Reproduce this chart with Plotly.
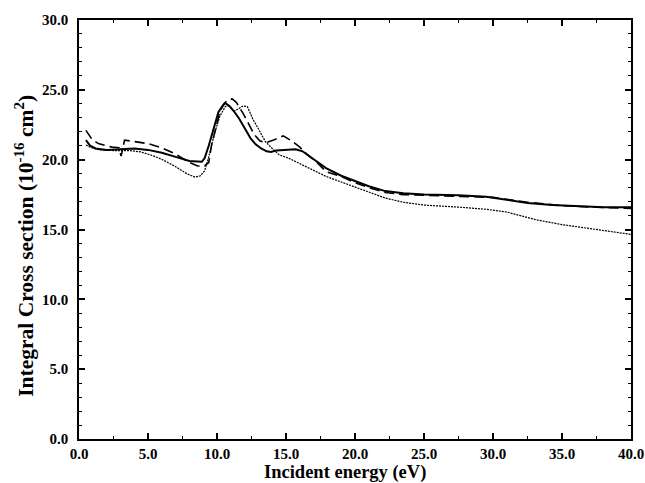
import plotly.graph_objects as go

# Solid curve
solid_E = [0.5, 0.8, 1.2, 2.0, 3.0, 4.0, 5.0, 6.0, 7.0, 8.0, 8.9, 9.1, 9.4, 9.75, 10.1, 10.4, 10.6,
           10.9, 11.2, 11.6, 12.0, 12.45, 12.8, 13.2, 13.6, 13.9, 14.3, 15.0, 15.7, 16.2, 16.7, 17.3,
           17.9, 19.0, 20.0, 21.0, 22.2, 23.5, 25.0, 27.5, 29.5, 31.0, 32.5, 34.3, 36.0, 38.0, 40.0]
solid_S = [21.4, 21.0, 20.8, 20.7, 20.75, 20.8, 20.7, 20.5, 20.2, 19.9, 19.85, 20.1, 21.0, 22.2, 23.4, 23.85, 24.05,
           23.85, 23.5, 22.95, 22.3, 21.5, 21.1, 20.8, 20.6, 20.55, 20.65, 20.7, 20.75, 20.6, 20.25, 19.8,
           19.4, 18.85, 18.5, 18.1, 17.75, 17.6, 17.5, 17.45, 17.35, 17.1, 16.9, 16.75, 16.7, 16.6, 16.6]

# Dashed curve
dash_E = [0.5, 0.95, 1.4, 2.4, 2.9, 3.05, 3.3, 4.0, 5.0, 6.0, 7.0, 8.0, 8.6, 9.1, 9.4, 9.6, 9.9, 10.2,
          10.5, 10.8, 11.1, 11.4, 11.9, 12.3, 12.7, 13.1, 13.5, 14.1, 14.8, 15.4, 16.0, 16.5, 17.2, 17.9,
          19.1, 20.0, 21.0, 22.2, 23.5, 25.0, 27.5, 30.0, 32.5, 35.0, 37.5, 40.0]
dash_S = [22.1, 21.45, 21.15, 20.9, 20.85, 20.25, 21.4, 21.3, 21.15, 20.85, 20.4, 19.8, 19.55, 19.55, 19.8, 21.0, 22.3, 23.4,
          24.0, 24.3, 24.35, 24.1, 23.3, 22.5, 21.8, 21.35, 21.2, 21.4, 21.7, 21.35, 20.9, 20.4, 19.85, 19.15,
          18.75, 18.35, 18.0, 17.65, 17.5, 17.45, 17.4, 17.3, 16.95, 16.7, 16.6, 16.5]

# Dotted curve
dot_E = [0.5, 0.9, 1.5, 2.5, 3.7, 4.5, 5.3, 6.05, 7.0, 7.8, 8.4, 8.8, 9.1, 9.4, 9.8, 10.2, 10.6, 10.9,
         11.2, 11.5, 11.9, 12.2, 12.6, 12.95, 13.5, 13.9, 14.5, 15.2, 16.2, 17.0, 17.9, 19.0, 20.0, 21.0,
         22.2, 23.5, 25.0, 27.5, 29.5, 31.0, 33.1, 35.0, 37.5, 39.3, 40.0]
dot_S = [21.05, 20.85, 20.7, 20.65, 20.65, 20.55, 20.3, 20.0, 19.5, 19.0, 18.75, 18.85, 19.2, 20.2, 21.8, 23.1, 23.8, 23.85,
         23.45, 23.6, 23.85, 23.8, 22.9, 22.3, 21.3, 20.9, 20.35, 20.1, 19.6, 19.2, 18.8, 18.4, 18.05, 17.7,
         17.25, 16.95, 16.75, 16.6, 16.45, 16.25, 15.7, 15.35, 15.0, 14.75, 14.65]

x_ticks = [0, 5, 10, 15, 20, 25, 30, 35, 40]
y_ticks = [0, 5, 10, 15, 20, 25, 30]

x_title = "Incident energy (eV)"
y_title = "Integral Cross section (10<sup>-16</sup> cm<sup>2</sup>)"

fig = go.Figure()
fig.add_trace(go.Scatter(x=dot_E, y=dot_S, mode="lines",
                         line=dict(color="black", width=1.2, dash="2px,1px")))
fig.add_trace(go.Scatter(x=dash_E, y=dash_S, mode="lines",
                         line=dict(color="black", width=1.6, dash="10px,5px")))
fig.add_trace(go.Scatter(x=solid_E, y=solid_S, mode="lines",
                         line=dict(color="black", width=2)))

font_family = "Liberation Serif"
fig.update_layout(
    width=645, height=483,
    margin=dict(l=79, r=14, t=20, b=44),
    paper_bgcolor="white", plot_bgcolor="white",
    showlegend=False,
    font=dict(family=font_family, color="black", weight="bold"),
)
common = dict(
    ticks="inside", ticklen=6, tickwidth=1.5, tickcolor="black",
    showline=True, linecolor="black", linewidth=1.5, mirror="allticks",
    showgrid=False, zeroline=False,
    tickfont=dict(family=font_family, size=15, weight="bold"),
    automargin=False,
)
fig.update_xaxes(
    range=[0, 40], tickvals=x_ticks, ticktext=[f"{v:.1f}" for v in x_ticks],
    minor=dict(dtick=2.5, tick0=0, ticks="inside", ticklen=3, tickwidth=1.2, tickcolor="black"),
    ticklabeloverflow="allow", ticklabelstandoff=0,
    **common,
)
fig.update_yaxes(
    range=[0, 30], tickvals=y_ticks, ticktext=[f"{v:.1f}" for v in y_ticks],
    minor=dict(dtick=1, tick0=0, ticks="inside", ticklen=3, tickwidth=1.2, tickcolor="black"),
    ticklabelstandoff=6,
    **common,
)

fig.add_annotation(text=x_title, xref="paper", yref="paper", x=0.482, y=-0.079,
                   xanchor="center", yanchor="middle", showarrow=False,
                   font=dict(family=font_family, size=18.5, weight="bold", color="black"))
fig.add_annotation(text=y_title, xref="paper", yref="paper", x=-0.098, y=0.461,
                   xanchor="center", yanchor="middle", showarrow=False, textangle=-90,
                   font=dict(family=font_family, size=21.5, weight="bold", color="black"))

fig.write_html("out.html")
